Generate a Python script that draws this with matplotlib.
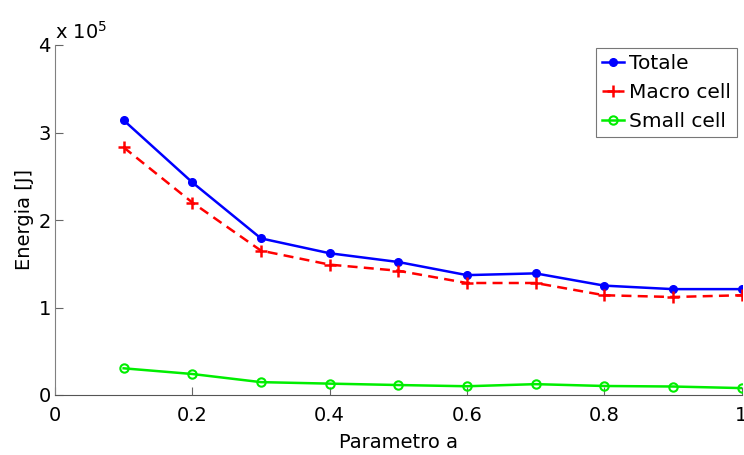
import matplotlib
matplotlib.use("Agg")
import matplotlib.pyplot as plt
from matplotlib.ticker import FuncFormatter

param_a = [0.1, 0.2, 0.3, 0.4, 0.5, 0.6, 0.7, 0.8, 0.9, 1.0]
totale = [3.14e5, 2.43e5, 1.79e5, 1.62e5, 1.52e5, 1.37e5, 1.39e5, 1.25e5, 1.21e5, 1.21e5]
macro_cell = [2.83e5, 2.20e5, 1.65e5, 1.49e5, 1.42e5, 1.28e5, 1.28e5, 1.14e5, 1.12e5, 1.14e5]
small_cell = [0.305e5, 0.24e5, 0.147e5, 0.13e5, 0.114e5, 0.10e5, 0.124e5, 0.103e5, 0.097e5, 0.079e5]

x_ticks = [0, 0.2, 0.4, 0.6, 0.8, 1]
x_ticklabels = ["0", "0.2", "0.4", "0.6", "0.8", "1"]
y_ticks = [0, 1e5, 2e5, 3e5, 4e5]

plt.rcParams['font.family'] = ['DejaVu Sans']
fig = plt.figure(figsize=(7.44, 4.55), dpi=100)
ax = fig.add_axes([55/744, 1 - 395/455, (741.5 - 55)/744, 350/455])

ax.plot(param_a, totale, color='#0000ff', lw=1.8, marker='o', ms=5.5, label='Totale')
ax.plot(param_a, macro_cell, color='#ff0000', lw=1.8, ls=(0, (4, 2.5)), marker='+', ms=8, mew=1.8, label='Macro cell')
ax.plot(param_a, small_cell, color='#00ee00', lw=1.8, marker='o', ms=6, mfc='none', mew=1.5, label='Small cell')

ax.set_xlim(0, 1)
ax.set_ylim(0, 4e5)
ax.set_xticks(x_ticks)
ax.set_xticklabels(x_ticklabels)
ax.set_yticks(y_ticks)
ax.yaxis.set_major_formatter(FuncFormatter(lambda v, p: f"{v/1e5:g}"))

for s in ['top', 'right']:
    ax.spines[s].set_visible(False)
ax.spines['left'].set_color('#808080')
ax.spines['bottom'].set_color('#555555')
ax.tick_params(direction='in', length=6, width=0.8, colors='#666666', labelcolor='black', labelsize=14, pad=4)
ax.tick_params(axis='x', pad=8)
ax.tick_params(axis='y', pad=3)

ax.set_xlabel('Parametro a', fontsize=14, labelpad=6)
ax.set_ylabel('Energia [J]', fontsize=14, labelpad=3)

fig.text(55/744, 1 - 32/455, 'x 10$^{5}$', fontsize=14, ha='left', va='center')

leg = ax.legend(loc='upper right', bbox_to_anchor=(737/744, 1 - 48/455), bbox_transform=fig.transFigure,
                fontsize=14.5, frameon=True, fancybox=False, handlelength=1.1, handletextpad=0.25,
                borderaxespad=0, borderpad=0.3, labelspacing=0.5)
leg.get_frame().set_edgecolor('#555555')
leg.get_frame().set_linewidth(0.8)

fig.savefig('out.png', dpi=100)
